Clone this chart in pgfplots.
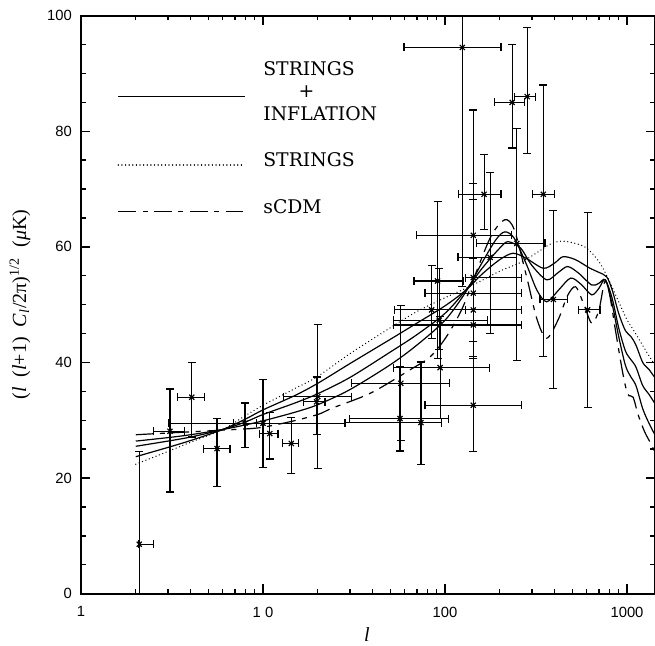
\documentclass[border=0pt]{standalone}
\usepackage{fontspec}
\setmainfont{Liberation Serif}
\setsansfont{Liberation Sans}
\newfontfamily\legfont{DejaVu Serif}
\usepackage{pgfplots}
\usepackage{pgfplotstable}
\pgfplotsset{compat=1.18}
\usetikzlibrary{calc}

% l, value, l range, value range (all read off the figure)
\pgfplotstableread{
l     y     lmin  lmax  ymin  ymax
2.09  8.55  2.06  2.49  0.0   24.6
3.08  28.1  2.49  3.70  17.6  35.4
4.06  34.0  3.40  4.76  27.1  40.0
5.59  25.1  4.70  6.59  18.5  30.3
7.96  29.5  6.86  9.21  25.3  33.0
10.0  29.5  3.02  28.0  21.8  37.1
10.9  27.7  9.6   12.1  23.3  31.4
14.3  26.0  12.8  15.6  20.8  30.5
20.0  34.1  13.0  30.5  21.6  46.6
19.7  33.2  16.7  21.9  27.6  37.5
56.6  30.3  30.0  104   24.7  39.3
57.2  36.4  30.6  106   26.5  49.9
73.8  29.6  28.2  96    22.3  40.1
84.5  49.1  53    130   44.2  56.8
91    54.1  67.5  125.6 40.7  67.9
93    47.3  52    172   42.2  56.3
94    39.1  52    175   30.3  48.0
124.5 94.5  59.5  203   53.1  110
143   62.0  69.4  232   40.7  83.7
143   54.7  129   262   43.6  71.0
143   52.0  77.6  262   40.7  68.2
143   49.1  53    262   43.6  62.0
143   46.5  52    262   40.7  58.0
143   32.6  77.6  262   24.6  41.0
164   69.1  118.5 203   63.0  76.0
177   58.2  118   248   45.0  72.9
234   85.0  188   273   77.1  95.0
283   86.0  240   315   76.1  98.0
248   60.6  149   354   40.4  80.5
347   69.1  301   398   41.0  88.0
394   50.9  333   473   35.5  66.3
608   49.1  539   711   32.2  65.9
}\cmbdata

\begin{document}
\begin{tikzpicture}
\begin{axis}[
  scale only axis, width=287pt, height=289pt,
  xmode=log, xmin=1, xmax=1425, ymin=0, ymax=100,
  xtick={1,10,100,1000}, xticklabels={1,1 0,100,1000},
  ytick={0,20,40,60,80,100}, yticklabels={0,20,40,60,80,100},
  minor y tick num=3,
  tick align=inside, major tick length=4.6pt, minor tick length=2.3pt,
  axis line style={line width=1pt},
  every tick/.style={black, line width=0.7pt},
  tick label style={font=\fontsize{7.4}{8}\selectfont\sffamily},
  xticklabel style={yshift=-3pt},
  yticklabel style={xshift=-1pt},
  label style={font=\fontsize{13}{15}\selectfont},
  xlabel={\textit{l}},
  ylabel={(\textit{l}\hspace{0.5em}(\textit{l}+1)\hspace{0.5em}\textit{C}\textsubscript{\textit{l}}/2π)\textsuperscript{1/2}\hspace{0.5em}(\textit{μ}K)},
  every axis x label/.style={at={(rel axis cs:0.498,-0.071)}, anchor=center},
  every axis y label/.style={at={(rel axis cs:-0.1063,0.5)}, rotate=90, anchor=center},
]
% strings
\addplot[line width=0.7pt, line cap=round, dash pattern=on 0.01pt off 1.8pt, smooth, tension=0.5] coordinates {
(2,22.4)(3,24.6)(4,26.2)(6,28.4)(8,30.8)(10,32.6)(15,35.5)(20,37.6)(30,41.5)(50,46.0)(70,48.8)(100,51.2)(140,53.3)(200,55.8)(260,57.3)(320,59.0)(380,60.5)(440,61.0)(520,60.6)(600,59.8)(700,57.5)(780,54.8)(900,50.5)(1000,47.4)(1100,45.3)(1300,41.5)(1450,39.2)};
% strings + inflation
\addplot[line width=0.6pt, smooth, tension=0.5] coordinates {
(2,23.7)(3,25.3)(4,26.5)(6,28.4)(8,30.2)(10,31.8)(15,34.3)(20,36.4)(30,39.8)(50,44.0)(70,46.8)(100,49.8)(130,52.5)(160,55.3)(200,57.8)(237,58.9)(280,58.0)(347,56.3)(400,57.2)(445,58.3)(520,57.8)(626,56.3)(700,55.6)(774,54.8)(830,52.5)(900,48.5)(980,45.5)(1050,44.5)(1120,43.0)(1220,40.0)(1320,38.8)(1450,37)};
\addplot[line width=0.6pt, smooth, tension=0.5] coordinates {
(2,25.5)(3,26.4)(4,27.1)(6,28.4)(8,29.7)(10,31.0)(15,33.0)(20,34.6)(30,37.4)(50,41.8)(70,44.8)(100,48.5)(130,52.5)(160,56.3)(200,59.8)(222,60.9)(260,59.8)(300,56.8)(362,54.3)(420,55.6)(472,56.6)(540,55.5)(640,53.4)(700,53.7)(760,54.3)(830,51)(900,46)(980,42)(1050,40.5)(1120,39.2)(1220,36)(1320,34.5)(1450,32.5)};
\addplot[line width=0.6pt, smooth, tension=0.5] coordinates {
(2,26.4)(3,27.0)(4,27.5)(6,28.4)(8,29.2)(10,29.9)(15,31.4)(20,32.7)(30,35.3)(50,39.6)(70,43.0)(100,47.3)(130,52.2)(160,57.3)(190,61.2)(213,62.6)(240,61.5)(280,57)(320,52.5)(362,50.5)(420,52.5)(490,54.6)(560,53.5)(640,51.7)(700,52.8)(760,54.3)(830,50)(900,44.5)(980,39.5)(1050,37.5)(1120,36)(1220,32)(1320,29.5)(1450,27)};
% sCDM
\addplot[line width=0.6pt, dash pattern=on 8.8pt off 3.3pt on 2.5pt off 3.3pt, smooth, tension=0.5] coordinates {
(2,27.5)(3,27.8)(4,28.0)(6,28.3)(8,28.5)(10,28.8)(14.3,29.8)(20,31.0)(24,32.1)(39,34.7)(64,38.7)(83,41.0)(102,44.5)(125,49.5)(150,56)(180,62)(213,64.7)(240,63)(280,55)(320,47.5)(362,44.2)(420,47.5)(470,51.5)(522,53.1)(580,50)(640,46.8)(700,49)(755,54.0)(800,52)(870,45)(950,38)(1010,34.5)(1080,34)(1150,31)(1250,28)(1350,26)(1450,24)};
% data
\addplot[only marks, mark=x, mark size=1.8pt, line width=0.6pt,
  error bars/.cd, x dir=both, x explicit, y dir=both, y explicit,
  error bar style={line width=0.6pt},
  error mark options={rotate=90, mark size=2pt, line width=0.6pt}]
  table[x=l, y=y,
    x error plus expr=\thisrow{lmax}-\thisrow{l},
    x error minus expr=\thisrow{l}-\thisrow{lmin},
    y error plus expr=\thisrow{ymax}-\thisrow{y},
    y error minus expr=\thisrow{y}-\thisrow{ymin}] {\cmbdata};
% legend
\draw[line width=0.6pt] (rel axis cs:0.065,0.860) -- (rel axis cs:0.2857,0.860);
\draw[line width=0.7pt, line cap=round, dash pattern=on 0.01pt off 1.8pt] (rel axis cs:0.065,0.7417) -- (rel axis cs:0.2857,0.7417);
\draw[line width=0.6pt, dash pattern=on 8.8pt off 3.3pt on 2.5pt off 3.3pt] (rel axis cs:0.065,0.661) -- (rel axis cs:0.2857,0.661);
\begin{scope}[every node/.style={font=\legfont\fontsize{9.4}{10}\selectfont, inner sep=0pt}]
\node[anchor=west] at (rel axis cs:0.317,0.909) {STRINGS};
\node at (rel axis cs:0.393,0.8685) {+};
\node[anchor=west] at (rel axis cs:0.317,0.831) {INFLATION};
\node[anchor=west] at (rel axis cs:0.317,0.7503) {STRINGS};
\node[anchor=west] at (rel axis cs:0.317,0.6696) {sCDM};
\end{scope}
\end{axis}
\pgfresetboundingbox
\path ($(current axis.south west)+(-40.5pt,-26.15pt)$) rectangle ($(current axis.north east)+(0pt,7.85pt)$);
\end{tikzpicture}
\end{document}
